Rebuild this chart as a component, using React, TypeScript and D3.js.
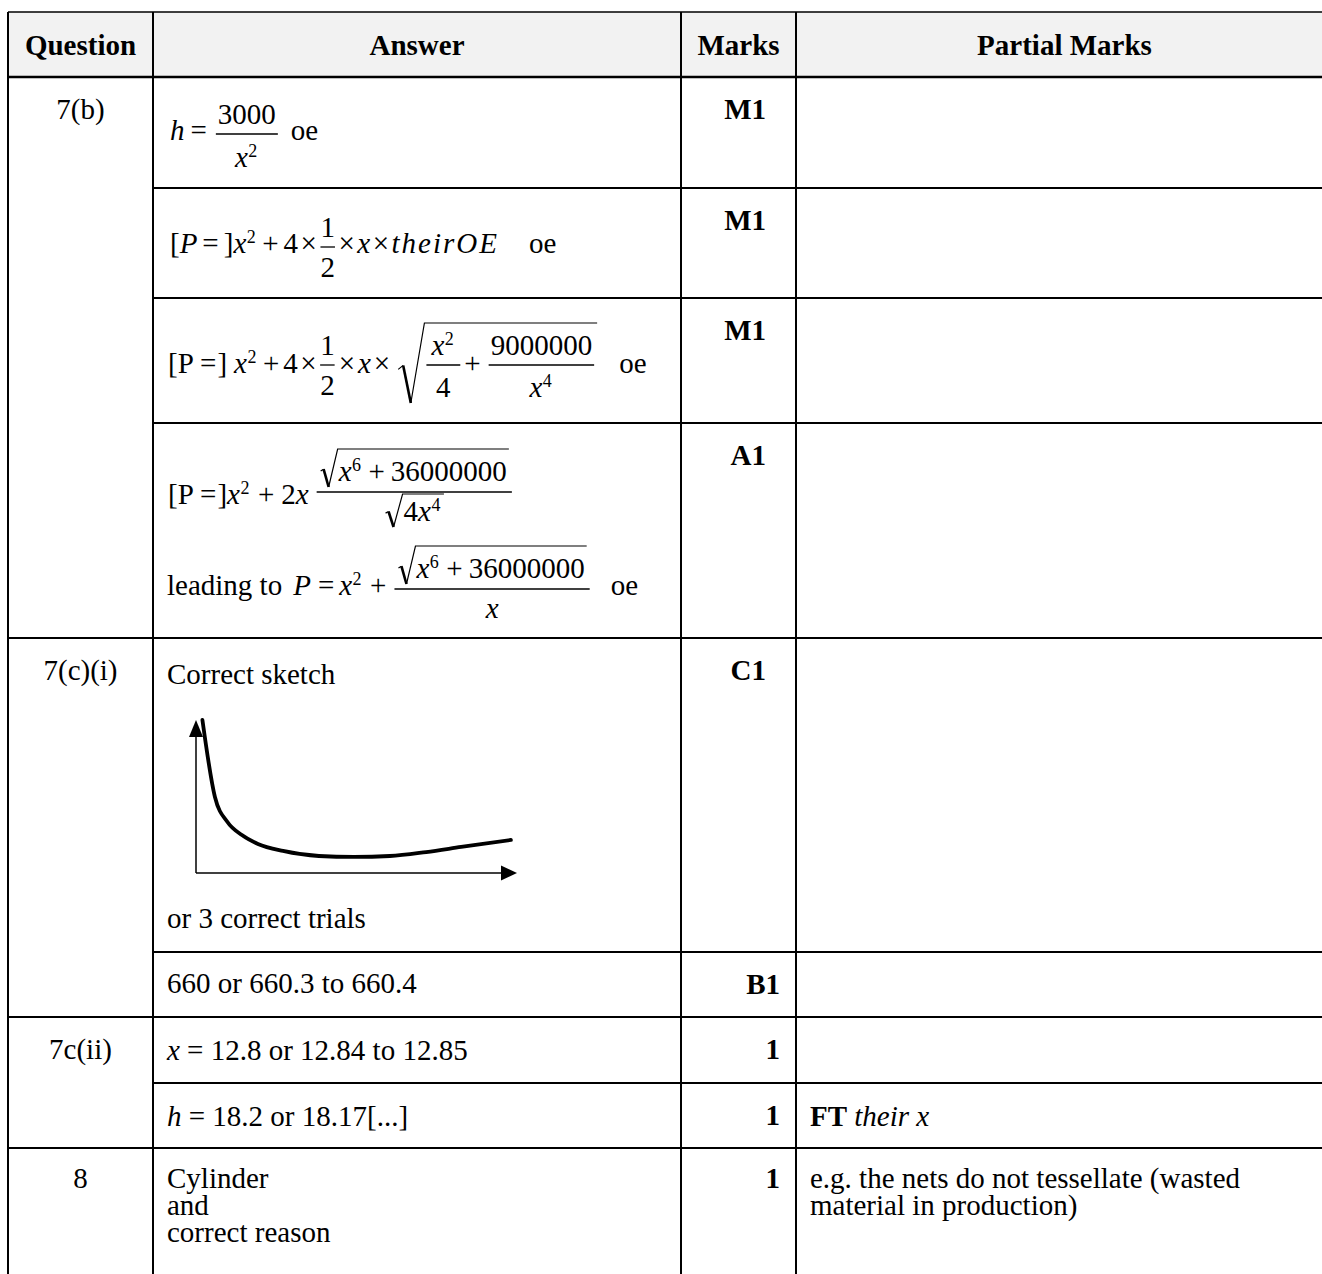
import React from 'react';
import * as d3 from 'd3';

const W = 1322;
const H = 1274;
const FONT = "'Liberation Serif', 'Times New Roman', Times, serif";
const FS = 29;
const SUP_FS = 18;
const SUP_RAISE = 10;
const LINE_H = 27;

// ---- table content ----
const headers = ['Question', 'Answer', 'Marks', 'Partial Marks'];
const questionLabels = ['7(b)', '7(c)(i)', '7c(ii)', '8'];
const questionFirstRow = [0, 4, 6, 8];
const marks = ['M1', 'M1', 'M1', 'A1', 'C1', 'B1', '1', '1', '1'];
const row8Answer = ['Cylinder', 'and', 'correct reason'];
const row8Partial = ['e.g. the nets do not tessellate (wasted', 'material in production)'];
const sketchLabels = ['Correct sketch', 'or 3 correct trials'];
const answer660 = '660 or 660.3 to 660.4';

// sketch curve (axis units 0..100)
const sketchX = [2.0, 5.9, 9.8, 14.3, 19.3, 27.1, 38.3, 49.2, 60.4, 71.7, 82.6, 98.1];
const sketchY = [100, 49.7, 33.3, 24.8, 19.0, 14.4, 11.1, 10.5, 11.1, 13.7, 17.0, 21.6];

type FracOpt = { ov?: number; bar?: number; dy?: number };
type Tok =
  | { k: 'n'; s: string }
  | { k: 'b'; s: string }
  | { k: 'i'; s: string; ls?: number }
  | { k: 'op'; s: string; l: number; r: number }
  | { k: 'sup'; s: string }
  | { k: 'frac'; n: Tok[]; d: Tok[]; o: FracOpt }
  | { k: 'sqrt'; c: Tok[]; pad: number }
  | { k: 'sp'; w: number };

const n = (s: string): Tok => ({ k: 'n', s });
const b = (s: string): Tok => ({ k: 'b', s });
const it = (s: string, ls?: number): Tok => ({ k: 'i', s, ls });
const op = (s: string, l = 5, r = l): Tok => ({ k: 'op', s, l, r });
const sup = (s: string): Tok => ({ k: 'sup', s });
const frac = (nn: Tok[], d: Tok[], o: FracOpt = {}): Tok => ({ k: 'frac', n: nn, d, o });
const sqrt = (c: Tok[], pad = 9): Tok => ({ k: 'sqrt', c, pad });
const sp = (w: number): Tok => ({ k: 'sp', w });

const ansH = [it('h'), op('=', 6, 8), frac([n('3000')], [it('x'), sup('2')], { ov: 2, bar: -6, dy: 33 }), sp(12), n('oe')];
const ansP1 = [
  n('['), it('P'), op('=', 5), n(']'), it('x'), sup('2'), op('+', 5), n('4'), op('×', 2.5),
  frac([n('1')], [n('2')], { ov: 0, bar: -6 }), op('×', 2.5), it('x'), op('×', 2.5), it('theirOE', 2), sp(30), n('oe'),
];
const ansP2 = [
  n('[P ='), n(']'), sp(7), it('x'), sup('2'), op('+', 5, 4), n('4'), op('×', 2.5), frac([n('1')], [n('2')], { ov: 0, bar: -8 }),
  op('×', 3), it('x'), op('×', 3), sp(4),
  sqrt([
    frac([it('x'), sup('2')], [n('4')], { ov: 5, bar: -8, dy: 32 }), op('+', 3, 7),
    frac([n('9000000')], [it('x'), sup('4')], { ov: 2, bar: -8, dy: 32 }),
  ]),
  sp(22), n('oe'),
];
const ansP3 = [
  n('[P ='), n(']'), it('x'), sup('2'), op('+', 7), n('2'), it('x'), sp(7),
  frac([sqrt([it('x'), sup('6'), op('+', 6), n('36000000')])], [sqrt([n('4'), it('x'), sup('4')], 4)], { ov: 3, bar: -12, dy: 29 }),
];
const ansP4 = [
  n('leading to'), sp(11), it('P'), op('=', 7, 5), it('x'), sup('2'), op('+', 7),
  frac([sqrt([it('x'), sup('6'), op('+', 6), n('36000000')])], [it('x')], { ov: 3, bar: -6, dy: 29 }), sp(20), n('oe'),
];
const ansX = [it('x'), n(' = 12.8 or 12.84 to 12.85')];
const ansHval = [it('h'), n(' = 18.2 or 18.17[...]')];
const partialFT = [b('FT'), n(' '), it('their x')];

// ---- layout (pixels) ----
const colX = [8, 153, 681, 796, 1333];
const tableTop = 12;
const headerBottom = 77;
const rowTops = [77, 188, 298, 423, 638, 952, 1017, 1083, 1148];
const answerLeft = 167;
const partialLeft = 810;

let ctx: CanvasRenderingContext2D | null = null;
const measure = (s: string, size = FS, style = '') => {
  if (!ctx) ctx = document.createElement('canvas').getContext('2d');
  if (!ctx) return s.length * size * 0.5;
  ctx.font = `${style}${size}px 'Liberation Serif'`;
  return ctx.measureText(s).width;
};

type Box = { w: number; asc: number; desc: number; draw: (x: number, y: number) => React.ReactNode[] };

let keyN = 0;
const k = () => `m${keyN++}`;

function layout(toks: Tok[]): Box {
  const boxes = toks.map(box);
  return {
    w: d3.sum(boxes, d => d.w),
    asc: d3.max(boxes, d => d.asc) ?? 0,
    desc: d3.max(boxes, d => d.desc) ?? 0,
    draw: (x, y) => {
      let cx = x;
      const out: React.ReactNode[] = [];
      boxes.forEach(bx => {
        out.push(...bx.draw(cx, y));
        cx += bx.w;
      });
      return out;
    },
  };
}

function box(t: Tok): Box {
  switch (t.k) {
    case 'n':
    case 'b': {
      const bold = t.k === 'b';
      const w = measure(t.s, FS, bold ? 'bold ' : '');
      return {
        w, asc: 20, desc: 5,
        draw: (x, y) => [<text key={k()} x={x} y={y} fontWeight={bold ? 'bold' : undefined} style={{ whiteSpace: 'pre' }}>{t.s}</text>],
      };
    }
    case 'i': {
      const ls = t.ls ?? 0;
      const w = measure(t.s, FS, 'italic ') + ls * t.s.length;
      return {
        w, asc: 20, desc: 5,
        draw: (x, y) => [<text key={k()} x={x} y={y} fontStyle="italic" letterSpacing={ls || undefined} style={{ whiteSpace: 'pre' }}>{t.s}</text>],
      };
    }
    case 'op': {
      const w = measure(t.s) + t.l + t.r;
      return { w, asc: 20, desc: 5, draw: (x, y) => [<text key={k()} x={x + t.l} y={y}>{t.s}</text>] };
    }
    case 'sup': {
      const w = measure(t.s, SUP_FS) + 2;
      return {
        w, asc: SUP_RAISE + 13, desc: 0,
        draw: (x, y) => [<text key={k()} x={x + 0.5} y={y - SUP_RAISE} fontSize={SUP_FS}>{t.s}</text>],
      };
    }
    case 'sp':
      return { w: t.w, asc: 0, desc: 0, draw: () => [] };
    case 'frac': {
      const nb = layout(t.n);
      const db = layout(t.d);
      const ov = t.o.ov ?? 2;
      const bar = t.o.bar ?? -7;
      const bw = Math.max(nb.w, db.w) + 2 * ov;
      const nBase = bar - 10 - Math.max(0, nb.desc - 5);
      const dBase = bar + (t.o.dy ?? 30);
      return {
        w: bw + 2,
        asc: -nBase + nb.asc,
        desc: dBase + db.desc,
        draw: (x, y) => [
          <line key={k()} x1={x + 1} x2={x + 1 + bw} y1={y + bar} y2={y + bar} stroke="#000" strokeWidth={1.3} />,
          ...nb.draw(x + 1 + (bw - nb.w) / 2, y + nBase),
          ...db.draw(x + 1 + (bw - db.w) / 2, y + dBase),
        ],
      };
    }
    case 'sqrt': {
      const cb = layout(t.c);
      const top = cb.asc + t.pad;
      const bot = cb.desc + 1;
      const h = top + bot;
      const sw = Math.max(18, h * 0.34);
      return {
        w: sw + cb.w + 3,
        asc: top + 1,
        desc: bot,
        draw: (x, y) => {
          const yt = y - top;
          const yb = y + bot;
          const p1: [number, number] = [x + 1, yb - h * 0.42];
          const p2: [number, number] = [x + sw * 0.22, yb - h * 0.47];
          const p3: [number, number] = [x + sw * 0.5, yb];
          const p4: [number, number] = [x + sw, yt];
          const p5: [number, number] = [x + sw + cb.w + 3, yt];
          return [
            <path key={k()} d={`M${p1}L${p2}M${p3}L${p4}L${p5}`} fill="none" stroke="#000" strokeWidth={1.2} />,
            <path key={k()} d={`M${p2}L${p3}`} fill="none" stroke="#000" strokeWidth={2.6} />,
            ...cb.draw(x + sw + 1, y),
          ];
        },
      };
    }
  }
}

const Formula = ({ toks, x, y }: { toks: Tok[]; x: number; y: number }) => <g>{layout(toks).draw(x, y)}</g>;

const Lines = ({ lines, x, y }: { lines: string[]; x: number; y: number }) => (
  <text x={x} y={y}>
    {lines.map((s, i) => (
      <tspan key={s} x={x} dy={i === 0 ? 0 : LINE_H}>{s}</tspan>
    ))}
  </text>
);

const Sketch = () => {
  const xs = d3.scaleLinear().domain([0, 100]).range([196, 517]);
  const ys = d3.scaleLinear().domain([0, 100]).range([873, 720]);
  const pts = sketchX.map((v, i) => [v, sketchY[i]] as [number, number]);
  const line = d3.line<[number, number]>().x(d => xs(d[0])).y(d => ys(d[1])).curve(d3.curveMonotoneX);
  const ox = xs(0), oy = ys(0), tx = xs(100), ty = ys(100);
  return (
    <g>
      <line x1={ox} y1={oy} x2={ox} y2={ty + 14} stroke="#000" strokeWidth={1.5} />
      <polygon points={`${ox},${ty} ${ox - 7},${ty + 17} ${ox + 7},${ty + 17}`} fill="#000" />
      <line x1={ox} y1={oy} x2={tx - 14} y2={oy} stroke="#000" strokeWidth={1.5} />
      <polygon points={`${tx},${oy} ${tx - 16},${oy - 7.5} ${tx - 16},${oy + 7.5}`} fill="#000" />
      <path d={line(pts) ?? ''} fill="none" stroke="#000" strokeWidth={3.8} strokeLinejoin="round" strokeLinecap="round" />
    </g>
  );
};

export default function App() {
  keyN = 0;
  const markRight = (i: number) => (i < 5 ? 766 : 780);
  const row8Base = rowTops[8] + 40;

  return (
    <div>
      <style>{'body{margin:0}'}</style>
      <svg width={W} height={H} viewBox={`0 0 ${W} ${H}`} style={{ display: 'block', background: '#fff' }}
        fontFamily={FONT} fontSize={FS} fill="#000">
        <rect x={colX[0]} y={tableTop} width={W - colX[0]} height={headerBottom - tableTop} fill="#f2f2f2" />

        {/* header */}
        {headers.map((h, i) => (
          <text key={h} x={(colX[i] + colX[i + 1]) / 2} y={55} textAnchor="middle" fontWeight="bold">{h}</text>
        ))}

        {/* question labels */}
        {questionLabels.map((q, i) => (
          <text key={q} x={(colX[0] + colX[1]) / 2} y={rowTops[questionFirstRow[i]] + (i === 3 ? 40 : 42)} textAnchor="middle">{q}</text>
        ))}

        {/* marks */}
        {marks.map((m, i) => (
          <text key={i} x={markRight(i)} y={rowTops[i] + (i === 8 ? 40 : 42)} textAnchor="end" fontWeight="bold">{m}</text>
        ))}

        {/* answers */}
        <Formula toks={ansH} x={170} y={140} />
        <Formula toks={ansP1} x={170} y={253} />
        <Formula toks={ansP2} x={168} y={373} />
        <Formula toks={ansP3} x={168} y={504} />
        <Formula toks={ansP4} x={answerLeft} y={595} />
        <text x={answerLeft} y={684}>{sketchLabels[0]}</text>
        <Sketch />
        <text x={answerLeft} y={928}>{sketchLabels[1]}</text>
        <text x={answerLeft} y={993}>{answer660}</text>
        <Formula toks={ansX} x={answerLeft} y={1060} />
        <Formula toks={ansHval} x={answerLeft} y={1126} />
        <Lines lines={row8Answer} x={answerLeft} y={row8Base} />

        {/* partial marks */}
        <Formula toks={partialFT} x={partialLeft} y={1126} />
        <Lines lines={row8Partial} x={partialLeft} y={row8Base} />

        {/* grid */}
        <g stroke="#000" strokeWidth={2}>
          <line x1={colX[0]} x2={W} y1={tableTop} y2={tableTop} strokeWidth={1.5} />
          <line x1={colX[0]} x2={W} y1={headerBottom} y2={headerBottom} strokeWidth={2.5} />
          {rowTops.slice(1).map((y, j) => {
            const full = questionFirstRow.includes(j + 1);
            return <line key={y} x1={full ? colX[0] : colX[1]} x2={W} y1={y} y2={y} />;
          })}
          {colX.slice(0, 4).map(x => (
            <line key={x} x1={x} x2={x} y1={tableTop} y2={H} />
          ))}
        </g>
      </svg>
    </div>
  );
}
